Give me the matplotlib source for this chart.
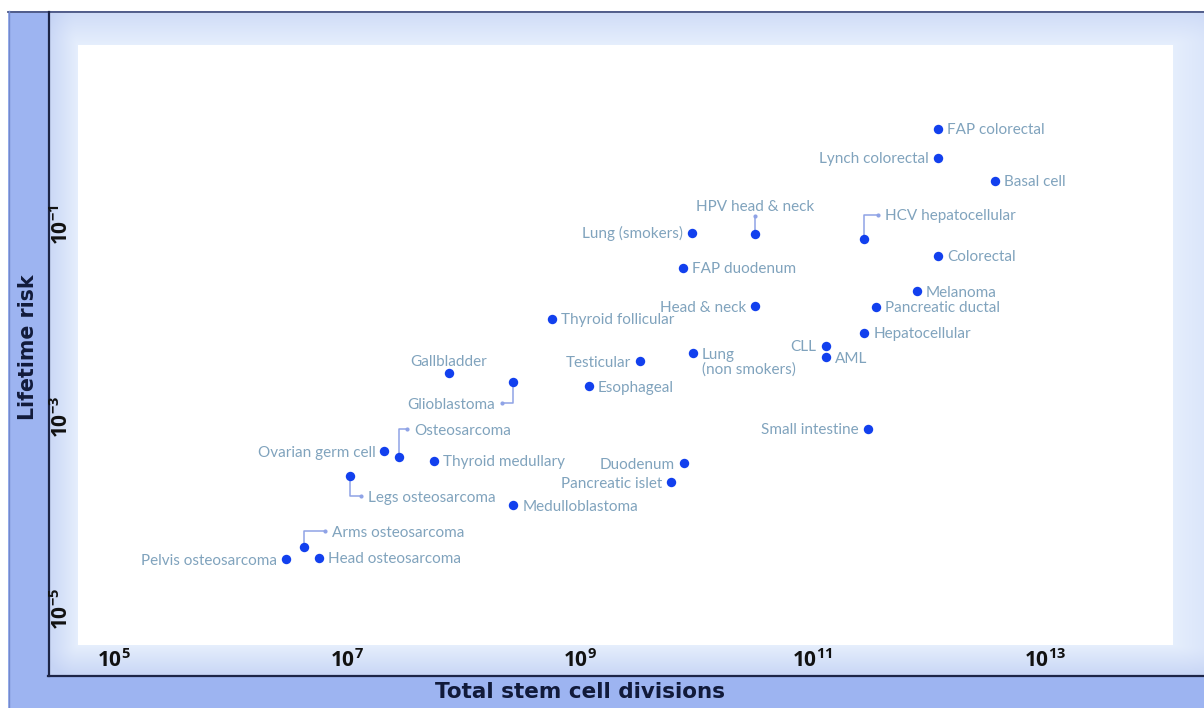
import matplotlib.pyplot as plt
import numpy as np
from matplotlib.patches import Rectangle

plt.rcParams["font.family"] = ["Lato", "DejaVu Sans"]
plt.rcParams["mathtext.fontset"] = "custom"
plt.rcParams["mathtext.rm"] = "Open Sans"
plt.rcParams["mathtext.bf"] = "Open Sans:bold"

# values
cancers = [
    "FAP colorectal", "Lynch colorectal", "Basal cell", "HCV hepatocellular",
    "HPV head & neck", "Lung (smokers)", "Colorectal", "FAP duodenum", "Melanoma",
    "Pancreatic ductal", "Head & neck", "Thyroid follicular", "Hepatocellular",
    "CLL", "AML", "Lung\n(non smokers)", "Testicular", "Gallbladder", "Glioblastoma",
    "Esophageal", "Osteosarcoma", "Ovarian germ cell", "Small intestine",
    "Thyroid medullary", "Duodenum", "Pancreatic islet", "Legs osteosarcoma",
    "Medulloblastoma", "Arms osteosarcoma", "Pelvis osteosarcoma", "Head osteosarcoma",
]
divisions = [
    1.2e12, 1.2e12, 3.7e12, 2.8e11, 3.2e10, 9.3e9, 1.2e12, 7.7e9, 7.9e11,
    3.5e11, 3.2e10, 5.8e8, 2.8e11, 1.3e11, 1.3e11, 9.4e9, 3.3e9, 7.5e7, 2.7e8,
    1.2e9, 2.8e7, 2.1e7, 3.0e11, 5.6e7, 7.9e9, 6.1e9, 1.06e7, 2.7e8, 4.3e6,
    3.0e6, 5.8e6,
]
risk = [
    1.0, 0.50, 0.29, 0.0715, 0.081, 0.083, 0.048, 0.036, 0.0205,
    0.014, 0.0143, 0.0105, 0.0075, 0.0055, 0.0042, 0.0046, 0.0038, 0.0029, 0.0023,
    0.0021, 0.00038, 0.00044, 0.00075, 0.00035, 0.00033, 0.00021, 0.00024, 0.00012, 4.4e-5,
    3.3e-5, 3.4e-5,
]
x_ticks = [1e5, 1e7, 1e9, 1e11, 1e13]
x_ticklabels = [r"$\mathbf{10^{5}}$", r"$\mathbf{10^{7}}$", r"$\mathbf{10^{9}}$",
                r"$\mathbf{10^{11}}$", r"$\mathbf{10^{13}}$"]
y_ticks = [1e-5, 1e-3, 1e-1]
y_ticklabels = [r"$\mathbf{10^{-5}}$", r"$\mathbf{10^{-3}}$", r"$\mathbf{10^{-1}}$"]

# label side: r = right, l = left, t = above
LEFT = {"Lynch colorectal", "Lung (smokers)", "Head & neck", "CLL", "Testicular",
        "Ovarian germ cell", "Small intestine", "Duodenum", "Pancreatic islet",
        "Pelvis osteosarcoma"}
TOP = {"Gallbladder"}
# leader paths in pixel offsets from the dot (y down), then label side
LEADERS = {
    "HCV hepatocellular": ([(0, 0), (0, -24), (14, -24)], "r"),
    "HPV head & neck": ([(0, 0), (0, -18)], "t"),
    "Glioblastoma": ([(0, 0), (0, 21), (-11, 21)], "l"),
    "Osteosarcoma": ([(0, 0), (0, -28), (8, -28)], "r"),
    "Legs osteosarcoma": ([(0, 0), (0, 20), (11, 20)], "r"),
    "Arms osteosarcoma": ([(0, 0), (0, -16), (21, -16)], "r"),
}

W, H = 1204, 708
DOT = "#1240ee"
TEXT = "#80a3bd"
LEAD = "#8fa3e6"
NAVY = "#111a3a"
PT = 0.72  # points per pixel at dpi 100
HALF_CAP = 5.5  # px from cap middle down to baseline

fig = plt.figure(figsize=(W / 100, H / 100), dpi=100, facecolor="white")

# frame and soft panel behind the plot
bg = fig.add_axes([0, 0, 1, 1])
bg.add_patch(Rectangle((8, 11), W - 8, H - 11, color="#9db4f1", lw=0, zorder=1))
yy, xx = np.mgrid[12:675, 49:W] + 0.5
dx = np.maximum(np.maximum(78 - xx, (xx - 1173) * 0.35), 0)
dy = np.maximum(np.maximum((45 - yy) * 0.7, yy - 645), 0)
t = np.clip(np.hypot(dx, dy) / 32, 0, 1)[..., None]
inner = np.array([0.90, 0.935, 0.99])
outer = np.array([0.78, 0.835, 0.962])
bg.imshow(inner + (outer - inner) * t, extent=(49, W, 675, 12), aspect="auto", zorder=2)
bg.plot([8, W], [11.5, 11.5], color="#4a5582", lw=1.3, zorder=3)
bg.plot([8.5, 8.5], [11, H], color="#7489cc", lw=1, zorder=3)
bg.plot([49, 49], [12, 676], color="#1d2547", lw=1.6, zorder=3)
bg.plot([48, W], [675.5, 675.5], color="#1d2547", lw=1.6, zorder=3)
bg.set_xlim(0, W)
bg.set_ylim(H, 0)
bg.axis("off")

ax = fig.add_axes([78 / W, (H - 645) / H, 1095 / W, 600 / H])
ax.set_facecolor("white")
ax.set_xscale("log")
ax.set_yscale("log")
ax.set_xlim(10 ** 4.691, 10 ** 14.098)
ax.set_ylim(10 ** -5.375, 10 ** 0.875)
for s in ax.spines.values():
    s.set_visible(False)
ax.minorticks_off()
ax.set_xticks(x_ticks)
ax.set_xticklabels(x_ticklabels)
ax.set_yticks(y_ticks)
ax.set_yticklabels(y_ticklabels, rotation=90, va="center")
ax.tick_params(length=0, labelsize=15, labelcolor="#111111")
ax.tick_params(axis="x", pad=2)
ax.tick_params(axis="y", pad=4)

title_kw = dict(fontsize=15.5, fontweight="bold", color=NAVY, family="DejaVu Sans")
ax.set_xlabel("Total stem cell divisions", **title_kw)
ax.xaxis.set_label_coords((580 - 78) / 1095, (645 - 692) / 600)
ax.xaxis.label.set_va("center")
ax.set_ylabel("Lifetime risk", fontsize=14.8, fontweight="bold", color=NAVY,
              family="DejaVu Sans")
ax.yaxis.set_label_coords((28 - 78) / 1095, (645 - 347) / 600)
ax.yaxis.label.set_va("center")

ax.scatter(divisions, risk, s=46, color=DOT, lw=0, zorder=3)

to_disp = ax.transData
to_data = ax.transData.inverted()
label_kw = dict(textcoords="offset points", fontsize=11, color=TEXT, zorder=4,
                va="baseline")

for name, xv, yv in zip(cancers, divisions, risk):
    if name in LEADERS:
        path, side = LEADERS[name]
        px, py = to_disp.transform((xv, yv))
        pts = to_data.transform([(px + ox, py - oy) for ox, oy in path])
        ax.plot(pts[:, 0], pts[:, 1], color=LEAD, lw=1.1, zorder=2)
        ax.plot(pts[-1, 0], pts[-1, 1], "o", color=LEAD, ms=3, mew=0, zorder=2)
        anchor = tuple(pts[-1])
        gap = 7
    else:
        side = "l" if name in LEFT else "t" if name in TOP else "r"
        anchor = (xv, yv)
        gap = 9
    if "\n" in name:
        # two-line label: first line level with the dot, second one below
        for k, line in enumerate(name.split("\n")):
            ax.annotate(line, anchor, xytext=(gap * PT, (-HALF_CAP - 15 * k) * PT),
                        ha="left", **label_kw)
    elif side == "r":
        ax.annotate(name, anchor, xytext=(gap * PT, -HALF_CAP * PT), ha="left", **label_kw)
    elif side == "l":
        ax.annotate(name, anchor, xytext=(-gap * PT, -HALF_CAP * PT), ha="right", **label_kw)
    else:
        up = 5 if name in LEADERS else 7
        ax.annotate(name, anchor, xytext=(0, up * PT), ha="center", **label_kw)

fig.savefig("out.png", dpi=100, facecolor="white")
